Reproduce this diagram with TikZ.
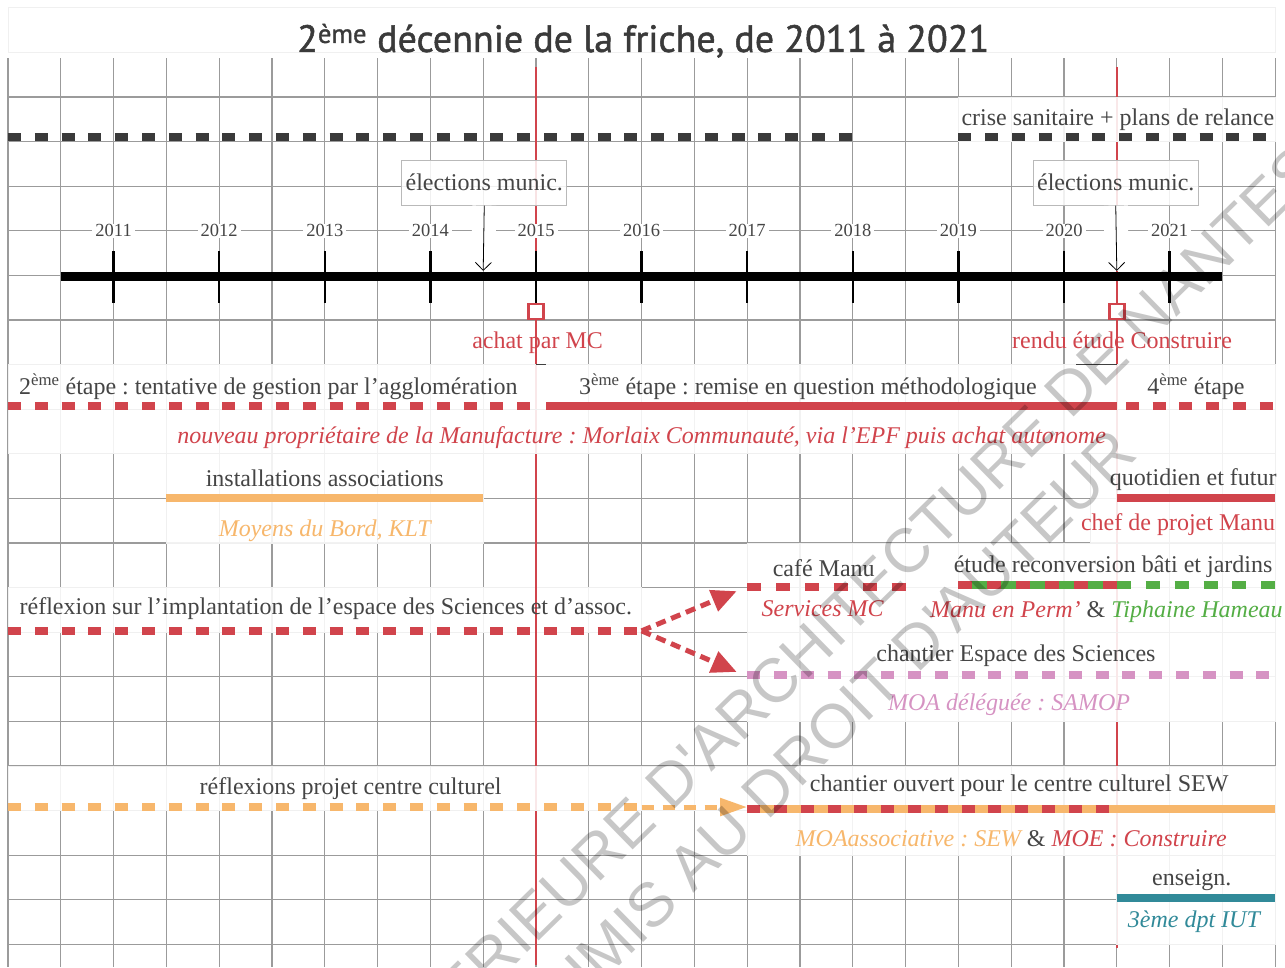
\documentclass[tikz,border=0pt]{standalone}
\usepackage{fontspec}
\setmainfont{Liberation Serif}
\newfontfamily\titrefont[FakeBold=1.3]{PT Sans}
\newfontfamily\filigranefont{Liberation Sans}
\usetikzlibrary{arrows.meta}
\frenchspacing

\definecolor{texte}{HTML}{454545}
\definecolor{noir}{HTML}{3A3A3A}
\definecolor{grille}{HTML}{9B9B9B}
\definecolor{rouge}{HTML}{D1444C}
\definecolor{orangeSEW}{HTML}{F7B76C}
\definecolor{rose}{HTML}{D693C3}
\definecolor{vert}{HTML}{54AE45}
\definecolor{bleu}{HTML}{318A99}

\begin{document}
\begin{tikzpicture}[x=52.8pt, y=-44.6pt,
    txt/.style={font=\fontsize{24}{28}\selectfont, text=texte, inner sep=0pt, anchor=base},
    ital/.style={txt, font=\fontsize{24}{28}\selectfont\itshape},
    annee/.style={font=\fontsize{18.5}{20}\selectfont, text=texte, fill=white, inner xsep=3pt, inner ysep=1pt},
    bande/.style={fill=white, fill opacity=0.88, draw=gray!12, line width=0.8pt},
    election/.style={draw=gray!55, line width=1pt, fill=white, fill opacity=0.85, text opacity=1,
        minimum width=165pt, minimum height=45pt, inner sep=0pt, font=\fontsize{24}{28}\selectfont, text=texte},
    trait/.style={line width=8pt},
    tirets/.style={trait, dash pattern=on 13pt off 13.8pt},
    tirets3/.style={trait, dash pattern=on 14pt off 14.9pt},
    fleche/.style={line width=5pt, dash pattern=on 10pt off 6pt, -{Triangle[length=25pt,width=22pt]}},
    filigrane/.style={font=\filigranefont\fontsize{62}{62}\selectfont, text=black, text opacity=0.22,
        rotate=44.4, inner sep=0pt, anchor=base}]
    \useasboundingbox (-0.1515,-1.1749) rectangle (24.1856,20.507);
    \fill[white] (-0.1515,-1.1749) rectangle (24.1856,20.507);

    % Grille
    \foreach \k in {0,...,24}
        \draw[grille, line width=1.1pt] (\k,0.13) -- (\k,20.51);
    \foreach \j in {1,...,20}
        \draw[grille, line width=1.1pt] (0,\j) -- (24,\j);
    \path[bande] (0,-1.018) rectangle (24,0);
    \path[bande] (0,12) rectangle (12,13);

    % Dates clefs
    \draw[rouge, line width=2pt] (10,0.33) -- (10,20.46);
    \draw[rouge, line width=2pt] (21,0.33) -- (21,20.08);

    % Fonds des textes
    \path[bande] (18,1) rectangle (24,2);
    \path[bande] (0,7) rectangle (24,8);
    \path[bande] (0,8) rectangle (24,9);
    \path[bande] (3,9) rectangle (9,11);
    \path[bande] (20.5,9) rectangle (24,11);
    \path[bande] (14,11) rectangle (24,13);
    \path[bande] (14,13) rectangle (24,15);
    \path[bande] (0,16) rectangle (14,17);
    \path[bande] (14,16) rectangle (24,18);
    \path[bande] (21,18) rectangle (24,20);
    \draw[gray!50!black, line width=1pt] (20.23,7) -- (21,7);
    \draw[gray!50!black, line width=1pt] (10,7) -- (10.18,7);

    % Elections
    \node[election] (elec1) at (9.02,2.92) {élections munic.};
    \node[election] (elec2) at (20.98,2.92) {élections munic.};
    \coordinate (cible1) at (9,4.9);
    \coordinate (cible2) at (21,4.9);
    \draw[line width=0.8pt, -{Straight Barb[length=8pt,width=16pt]},
        preaction={draw=white, line width=24pt, -}] (elec1.south) -- (cible1);
    \draw[line width=0.8pt, -{Straight Barb[length=8pt,width=16pt]},
        preaction={draw=white, line width=24pt, -}] (elec2.south) -- (cible2);

    % Axe du temps
    \draw[line width=9pt] (1,5.02) -- (23,5.02);
    \foreach \a [count=\i] in {2011,...,2021} {
        \draw[line width=2.5pt] (2*\i,4.455) -- (2*\i,5.61);
        \node[annee] (an\a) at (2*\i,4) {\a};
    }
    \node[draw=rouge, fill=white, line width=2.5pt, minimum size=15pt, inner sep=0pt] (achat) at (10,5.81) {};
    \node[draw=rouge, fill=white, line width=2.5pt, minimum size=15pt, inner sep=0pt] (rendu) at (21,5.81) {};

    % Contexte
    \draw[tirets, noir] (0,1.9) -- (16,1.9);
    \draw[tirets, noir] (18,1.9) -- (24,1.9);

    % Etapes
    \draw[tirets, rouge] (0,7.92) -- (10,7.92);
    \draw[trait, rouge] (10.19,7.92) -- (21,7.92);
    \draw[tirets, rouge] (21.17,7.92) -- (24,7.92);

    % Acteurs
    \draw[trait, orangeSEW] (3,10) -- (9,10);
    \draw[trait, rouge] (21,10) -- (24,10);
    \draw[tirets3, rouge] (14,11.98) -- (17,11.98);
    \draw[trait, vert] (18,11.95) -- (21,11.95);
    \draw[tirets3, rouge] (18,11.95) -- (21,11.95);
    \draw[tirets3, vert] (21,11.95) -- (24,11.95);
    \draw[tirets, rouge] (0,12.97) -- (12,12.97);
    \draw[tirets, rose] (14,13.97) -- (24,13.97);
    \draw[tirets, orangeSEW] (0,16.92) -- (12,16.92);
    \draw[trait, orangeSEW] (14,16.96) -- (24,16.96);
    \draw[tirets, rouge] (14,16.96) -- (21,16.96);
    \draw[trait, bleu] (21,18.95) -- (24,18.95);

    % Suites
    \coordinate (reflexionfin) at (12,12.97);
    \coordinate (cafedebut) at (13.8,12.08);
    \coordinate (espacedebut) at (13.8,13.89);
    \coordinate (projetfin) at (12,16.92);
    \coordinate (ouvertdebut) at (14,16.92);
    \draw[fleche, rouge] (reflexionfin) -- (cafedebut);
    \draw[fleche, rouge] (reflexionfin) -- (espacedebut);
    \draw[fleche, orangeSEW, dash pattern=on 12pt off 9pt, -{Triangle[length=27pt,width=17pt]}] (projetfin) -- (ouvertdebut);

    % Textes
    \node[txt, font=\titrefont\fontsize{38}{40}\selectfont, text=noir] (titre) at (12.03,-0.01)
        {2\textsuperscript{ème} décennie de la friche, de 2011 à 2021};
    \node[txt] (crise) at (21.02,1.65) {crise sanitaire + plans de relance};
    \node[txt, text=rouge] (achatMC) at (10.03,6.63) {achat par MC};
    \node[txt, text=rouge] (renduCons) at (21.1,6.63) {rendu étude Construire};
    \node[txt] (etape2) at (4.93,7.68) {2\textsuperscript{ème} étape : tentative de gestion par l’agglomération};
    \node[txt] (etape3) at (15.15,7.68) {3\textsuperscript{ème} étape : remise en question méthodologique};
    \node[txt] (etape4) at (22.5,7.68) {4\textsuperscript{ème} étape};
    \node[ital, text=rouge] (proprio) at (12,8.78)
        {nouveau propriétaire de la Manufacture : Morlaix Communauté, via l’EPF puis achat autonome};
    \node[txt] (install) at (6,9.74) {installations associations};
    \node[ital, text=orangeSEW] (moyens) at (6,10.86) {Moyens du Bord, KLT};
    \node[txt, anchor=base east] (quotidien) at (24.03,9.7) {quotidien et futur};
    \node[txt, text=rouge, anchor=base east] (chef) at (24,10.71) {chef de projet Manu};
    \node[txt] (cafe) at (15.45,11.76) {café Manu};
    \node[txt] (etude) at (20.93,11.67) {étude reconversion bâti et jardins};
    \node[ital, text=rouge] (services) at (15.43,12.65) {Services MC};
    \node[ital, anchor=base west] (perm) at (17.46,12.66)
        {\textcolor{rouge}{Manu en Perm’} \textcolor{texte}{\upshape\&} \textcolor{vert}{Tiphaine Hameau}};
    \node[txt] (reflexion) at (6.02,12.61) {réflexion sur l’implantation de l’espace des Sciences et d’assoc.};
    \node[txt] (chantierES) at (19.09,13.66) {chantier Espace des Sciences};
    \node[ital, text=rose] (samop) at (18.96,14.76) {MOA déléguée : SAMOP};
    \node[txt] (projet) at (6.49,16.65) {réflexions projet centre culturel};
    \node[txt] (ouvert) at (19.15,16.58) {chantier ouvert pour le centre culturel SEW};
    \node[ital] (moa) at (19.0,17.81)
        {\textcolor{orangeSEW}{MOAassociative : SEW} \textcolor{texte}{\upshape\&} \textcolor{rouge}{MOE : Construire}};
    \node[txt] (enseign) at (22.42,18.68) {enseign.};
    \node[ital, text=bleu] (iut) at (22.46,19.63) {3ème dpt IUT};

    % Filigrane
    \node[filigrane] (fil1) at (11.9,17.8) {ECOLE NATIONALE SUPERIEURE D'ARCHITECTURE DE NANTES};
    \node[filigrane] (fil2) at (12.9,18.95) {DOCUMENT SOUMIS AU DROIT D'AUTEUR};
\end{tikzpicture}
\end{document}
